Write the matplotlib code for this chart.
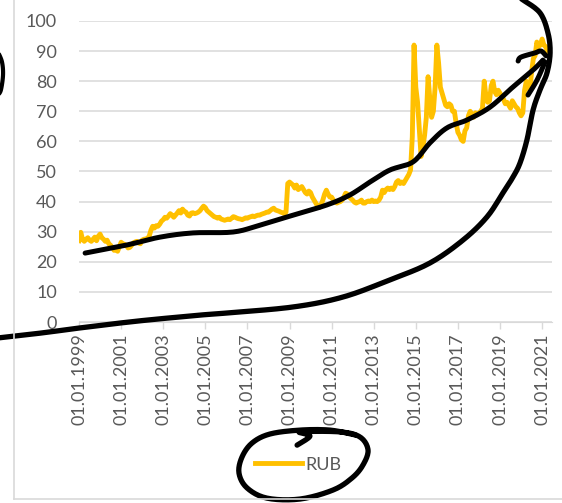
import numpy as np
import matplotlib.pyplot as plt
from matplotlib.lines import Line2D

plt.rcParams['font.family'] = ['Lato', 'DejaVu Sans']

# monthly RUB rate, Jan 1999 .. May 2021
rub = [
    27.0, 29.8, 27.5, 26.8, 27.5, 28.0, 27.2, 26.8, 27.5, 28.2, 27.0, 28.5,  # 1999
    29.2, 28.0, 27.5, 26.8, 27.2, 26.0, 25.5, 24.8, 23.8, 24.2, 23.5, 25.0,  # 2000
    26.5, 26.0, 25.8, 25.4, 24.6, 24.8, 25.5, 26.3, 26.6, 26.8, 26.2, 26.0,  # 2001
    27.2, 27.5, 27.6, 27.8, 28.5, 30.5, 31.8, 31.2, 32.0, 31.8, 32.5, 33.5,  # 2002
    34.0, 34.8, 34.5, 35.2, 36.0, 35.5, 34.8, 35.5, 36.2, 37.0, 36.2, 37.5,  # 2003
    36.8, 36.5, 35.5, 35.2, 36.2, 36.3, 36.0, 36.2, 36.5, 37.0, 37.8, 38.5,  # 2004
    38.0, 37.0, 36.5, 36.0, 35.5, 35.0, 34.8, 34.5, 34.8, 34.2, 34.0, 33.8,  # 2005
    34.0, 34.2, 34.0, 34.5, 35.0, 34.8, 34.5, 34.3, 34.2, 34.0, 34.3, 34.6,  # 2006
    34.5, 34.8, 35.0, 35.2, 35.0, 35.3, 35.5, 35.5, 35.8, 36.0, 36.2, 36.5,  # 2007
    36.5, 37.0, 37.5, 37.8, 37.2, 37.0, 36.8, 36.5, 36.3, 36.0, 36.5, 46.0,  # 2008
    46.5, 46.0, 45.5, 44.5, 45.5, 44.0, 44.5, 45.0, 44.0, 43.0, 42.5, 43.5,  # 2009
    43.0, 41.5, 40.5, 39.5, 38.5, 38.0, 39.0, 40.5, 42.5, 43.8, 42.5, 41.5,  # 2010
    41.5, 40.5, 40.0, 39.5, 39.8, 40.0, 40.5, 41.5, 42.8, 42.5, 41.5, 41.0,  # 2011
    40.5, 39.8, 39.5, 39.8, 40.0, 40.5, 39.5, 39.5, 40.0, 40.2, 40.0, 40.5,  # 2012
    40.0, 40.2, 40.0, 40.5, 41.5, 43.8, 43.0, 44.0, 44.5, 44.0, 44.5, 44.0,  # 2013
    45.0, 46.5, 47.0, 46.0, 46.5, 46.0, 47.0, 48.0, 49.0, 50.5, 61.5, 92.0,  # 2014
    78.0, 73.0, 64.0, 55.0, 58.0, 62.0, 68.0, 81.5, 74.0, 68.0, 70.0, 78.0,  # 2015
    92.0, 86.0, 78.0, 76.0, 74.0, 72.0, 71.5, 72.5, 72.0, 70.0, 70.0, 66.0,  # 2016
    63.0, 62.0, 60.5, 60.0, 63.5, 64.5, 68.5, 70.0, 69.0, 68.0, 69.5, 69.0,  # 2017
    69.5, 70.0, 71.0, 80.0, 75.0, 73.0, 73.5, 78.5, 80.0, 76.5, 75.5, 77.0,  # 2018
    76.0, 75.0, 74.0, 72.5, 73.0, 72.0, 71.0, 73.5, 72.5, 71.5, 71.0, 69.5,  # 2019
    68.5, 69.5, 77.0, 80.0, 78.0, 77.0, 83.0, 87.5, 88.5, 93.0, 91.5, 92.0,  # 2020
    94.0, 92.0, 91.5, 90.0, 89.0,                                            # 2021
]
t = 1999 + np.arange(len(rub)) / 12

tick_years = list(range(1999, 2022, 2))
tick_labels = ['01.01.%d' % y for y in tick_years]

# pen strokes drawn over the chart, (year, value)
trend = [(1999.29, 22.9), (2001.28, 25.6), (2002.85, 28.2), (2004.42, 29.6),
         (2006.32, 29.9), (2007.60, 32.2), (2009.17, 35.5), (2010.78, 38.9),
         (2011.87, 42.2), (2012.82, 46.5), (2013.77, 50.5), (2014.87, 53.2),
         (2015.67, 59.5), (2016.48, 64.5), (2017.43, 67.1), (2018.53, 71.4),
         (2019.62, 78.1), (2020.57, 83.7), (2021.04, 87.0)]
barb_top = [(2019.86, 86.7), (2020.0, 88.0), (2020.66, 89.4), (2020.95, 90.0),
            (2021.19, 88.4)]
barb_low = [(2020.33, 75.4), (2020.76, 80.4), (2021.14, 86.4)]
swoop = [(1994.5, -5.8), (1997.15, -3.7), (1999.0, -2.0), (2001.76, 0.3),
         (2004.75, 2.3), (2006.03, 3.0), (2009.17, 5.0), (2011.54, 8.3),
         (2013.77, 14.0), (2015.67, 19.6), (2017.24, 27.2), (2018.38, 34.9),
         (2019.14, 42.9), (2019.62, 48.2), (2019.95, 52.8), (2020.28, 60.5),
         (2020.57, 70.4), (2020.90, 77.1), (2021.23, 82.7), (2021.38, 89.4),
         (2021.28, 96.0), (2020.90, 102.7), (2020.09, 107.0), (2019.71, 108.6)]
loop = [(2009.36, -40.9), (2009.97, -37.9), (2009.50, -36.5), (2011.40, -36.5),
        (2012.35, -38.2), (2012.73, -42.5), (2012.49, -47.5), (2011.97, -51.8),
        (2011.07, -55.8), (2009.50, -58.8), (2007.93, -58.5), (2006.98, -55.1),
        (2006.60, -50.2), (2006.74, -44.9), (2007.22, -40.2), (2008.07, -37.2),
        (2009.50, -35.9), (2010.92, -35.9), (2012.11, -37.5)]
edge_mark = [(1995.15, 89.7), (1995.34, 86.4), (1995.39, 82.1), (1995.29, 77.1),
             (1995.15, 75.4)]

gold = '#FFC000'
grey_text = '#595959'
grid_grey = '#D9D9D9'


def pen(points, n=12):
    """Round off a freehand stroke with a Catmull-Rom pass."""
    p = np.array(points, dtype=float)
    p = np.vstack([p[0], p, p[-1]])
    out = []
    s = np.linspace(0, 1, n, endpoint=False)[:, None]
    for i in range(1, len(p) - 2):
        p0, p1, p2, p3 = p[i - 1], p[i], p[i + 1], p[i + 2]
        out.append(0.5 * (2 * p1 + (-p0 + p2) * s
                          + (2 * p0 - 5 * p1 + 4 * p2 - p3) * s ** 2
                          + (-p0 + 3 * p1 - 3 * p2 + p3) * s ** 3))
    out.append(p[-2][None, :])
    return np.vstack(out)


fig = plt.figure(figsize=(5.62, 5.03), dpi=100)
ax = fig.add_axes([0.1406, 0.3598, 0.8416, 0.5985])

ax.plot(t, rub, color=gold, lw=3.5, label='RUB', solid_joinstyle='round', zorder=3)

ax.set_ylim(0, 100)
ax.set_xlim(1999, 2021.47)
ax.set_yticks(range(0, 101, 10))
ax.grid(axis='y', color=grid_grey, lw=1.1)
ax.set_axisbelow(True)
ax.set_xticks(tick_years)
ax.set_xticklabels(tick_labels, rotation=90)
ax.tick_params(axis='x', colors=grid_grey, length=5, width=1, labelcolor=grey_text,
               labelsize=13, pad=3)
ax.tick_params(axis='y', length=0, labelcolor=grey_text, labelsize=13, pad=16)
for side in ['left', 'right', 'top']:
    ax.spines[side].set_visible(False)
ax.spines['bottom'].set_color(grid_grey)

# chart frame edges
fig.add_artist(Line2D([0.025, 0.025], [0.008, 1.0], color=grid_grey, lw=1.2))
fig.add_artist(Line2D([0.025, 1.0], [0.008, 0.008], color=grid_grey, lw=1.2))

leg = fig.legend(loc='center', bbox_to_anchor=(0.53, 0.076), frameon=False,
                 handlelength=2.6, handletextpad=0.2, fontsize=13)
for txt in leg.get_texts():
    txt.set_color(grey_text)

for stroke, w in [(trend, 3.6), (barb_top, 3.6), (barb_low, 3.6), (swoop, 3.8),
                  (loop, 3.8), (edge_mark, 3.0)]:
    xy = pen(stroke)
    ax.plot(xy[:, 0], xy[:, 1], color='black', lw=w, solid_capstyle='round',
            solid_joinstyle='round', clip_on=False, zorder=5)

fig.savefig('out.png', dpi=100)
